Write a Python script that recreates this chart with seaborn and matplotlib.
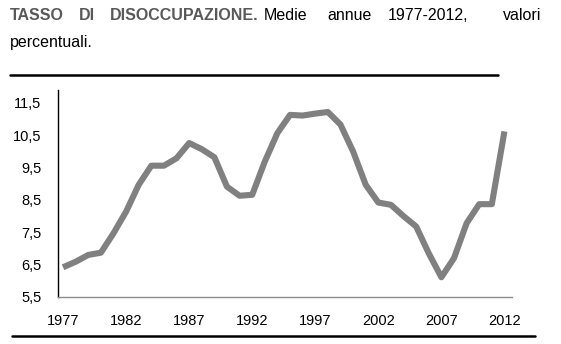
import matplotlib
matplotlib.use("Agg")
import matplotlib.pyplot as plt
import seaborn as sns
import pandas as pd
from matplotlib.lines import Line2D

years = list(range(1977, 2013))
rate = [6.42, 6.59, 6.80, 6.87, 7.47, 8.14, 8.97, 9.56, 9.56, 9.79,
        10.26, 10.07, 9.82, 8.91, 8.63, 8.66, 9.69, 10.57, 11.13, 11.11,
        11.17, 11.22, 10.83, 10.00, 8.97, 8.42, 8.35, 8.00, 7.68, 6.85,
        6.11, 6.70, 7.78, 8.37, 8.37, 10.62]
ytick_vals = [5.5, 6.5, 7.5, 8.5, 9.5, 10.5, 11.5]
ytick_labels = ["5,5", "6,5", "7,5", "8,5", "9,5", "10,5", "11,5"]
xtick_vals = [1977, 1982, 1987, 1992, 1997, 2002, 2007, 2012]

title_bold = ["TASSO", "DI", "DISOCCUPAZIONE."]
title_rest = ["Medie", "annue", "1977-2012,", "valori"]
title_line2 = "percentuali."

df = pd.DataFrame({"anno": years, "tasso": rate})

sns.set_style("white")
plt.rcParams["font.family"] = ["Liberation Sans", "DejaVu Sans"]

W, H = 561, 344
fig = plt.figure(figsize=(W / 100, H / 100), dpi=100)
ax = fig.add_axes([58 / W, 1 - 297 / H, (512 - 58) / W, (297 - 90) / H])

sns.lineplot(data=df, x="anno", y="tasso", ax=ax, color="#808080",
             linewidth=4.4, solid_joinstyle="round", solid_capstyle="butt")

ax.set_xlim(1976.6, 2012.6)
ax.set_ylim(5.5, 11.9)
ax.set_yticks(ytick_vals)
ax.set_yticklabels(ytick_labels)
ax.set_xticks(xtick_vals)
ax.set_xticklabels([str(v) for v in xtick_vals])
ax.tick_params(axis="both", length=0, labelsize=10.5, colors="black")
ax.tick_params(axis="y", pad=12)
ax.tick_params(axis="x", pad=12)
ax.set_xlabel("")
ax.set_ylabel("")
for s in ["top", "right"]:
    ax.spines[s].set_visible(False)
ax.spines["left"].set_color("black")
ax.spines["left"].set_linewidth(1.0)
ax.spines["bottom"].set_color("#8c8c8c")
ax.spines["bottom"].set_linewidth(1.0)

# Title, simulated justification
bold_x = [10, 79, 110]
for t, x in zip(title_bold, bold_x):
    fig.text(x / W, 1 - 15 / H, t, fontsize=11.5, fontweight="bold",
             color="#595959", va="center", ha="left")
rest_x = [264, 327, 388, 503]
for t, x in zip(title_rest, rest_x):
    fig.text(x / W, 1 - 15 / H, t, fontsize=11.5, color="black",
             va="center", ha="left")
fig.text(10 / W, 1 - 42 / H, title_line2, fontsize=11.5, color="black",
         va="center", ha="left")

# Horizontal rules
fig.add_artist(Line2D([10 / W, 498 / W], [1 - 75 / H, 1 - 75 / H],
                      color="black", linewidth=1.8, transform=fig.transFigure))
fig.add_artist(Line2D([12 / W, 535 / W], [1 - 336 / H, 1 - 336 / H],
                      color="black", linewidth=1.8, transform=fig.transFigure))

fig.savefig("out.png", dpi=100)
